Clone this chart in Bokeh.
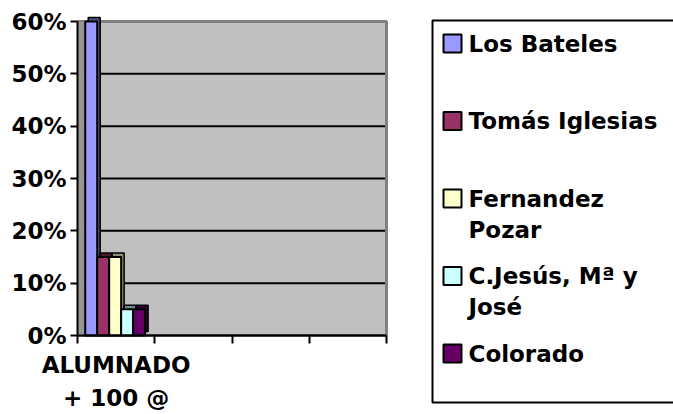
import textwrap
import numpy as np
from bokeh.plotting import figure
from bokeh.models import FixedTicker, NumeralTickFormatter, Range1d, ColumnDataSource
from bokeh.core.properties import value
from bokeh.embed import file_html
from bokeh.resources import INLINE

# ---------------- data ----------------
categories = ["ALUMNADO + 100 @", "", "", ""]
schools = ["Los Bateles", "Tomás Iglesias", "Fernandez Pozar", "C.Jesús, Mª y José", "Colorado"]
values = [0.60, 0.15, 0.15, 0.05, 0.05]          # shares in the first category
colors = ["#9999FF", "#993366", "#FFFFCC", "#CCFFFF", "#660066"]
side_colors = ["#4D4D80", "#4D1A33", "#8C8C70", "#708C8C", "#330033"]
y_ticks = [0.0, 0.1, 0.2, 0.3, 0.4, 0.5, 0.6]

FONT_NAME = "DejaVu Sans"
FONT = value(FONT_NAME)
FS = "23px"

# ---------------- layout anchors (pixels) ----------------
W, H = 673, 414
X0_PX, XN_PX = 77, 386        # plot area left / right
Y0_PX, YT_PX = 335, 21        # value 0 / top value
n_cat = len(categories)
x_per_px = n_cat / (XN_PX - X0_PX)
y_per_px = (y_ticks[-1] - y_ticks[0]) / (Y0_PX - YT_PX)
x_lo = -X0_PX * x_per_px
x_hi = (W - X0_PX) * x_per_px
y_lo = -(H - Y0_PX) * y_per_px
y_hi = y_ticks[-1] + YT_PX * y_per_px

p = figure(width=W, height=H, output_backend="svg", toolbar_location=None,
           x_range=Range1d(x_lo, x_hi), y_range=Range1d(y_lo, y_hi),
           min_border=0)
p.extra_x_ranges = {"px": Range1d(0, W)}
p.extra_y_ranges = {"px": Range1d(H, 0)}
p.background_fill_color = "white"
p.border_fill_color = "white"
p.outline_line_color = None
p.xgrid.visible = False
p.ygrid.visible = False

ymax = y_ticks[-1]
# back wall
p.quad(left=[0], right=[n_cat], bottom=[0], top=[ymax], fill_color="#C0C0C0", line_color=None)
# gridlines
p.segment(x0=np.zeros(len(y_ticks)), x1=np.full(len(y_ticks), n_cat), y0=y_ticks, y1=y_ticks,
          line_color="black", line_width=2)
# top / right edges of wall
p.line(x=[0, n_cat, n_cat], y=[ymax, ymax, 0], line_color="#808080", line_width=3)
# left side wall
p.quad(left=[0], right=[0.09], bottom=[0], top=[ymax], fill_color="#969696",
       line_color="#808080", line_width=1)

# bars (3D look: back face offset, then front face)
gap, w = 0.1, 0.155
cat_idx = 0
n = len(schools)
lefts = cat_idx + gap + w * np.arange(n)
rights = lefts + w
dx, dy = 3 * x_per_px, 4 * y_per_px
back = ColumnDataSource(dict(left=lefts + dx, right=rights + dx, bottom=np.zeros(n) + dy,
                             top=np.array(values) + dy, color=side_colors))
front = ColumnDataSource(dict(left=lefts, right=rights, bottom=np.zeros(n),
                              top=np.array(values), color=colors))
p.quad(left="left", right="right", bottom="bottom", top="top", fill_color="color",
       line_color="black", line_width=1.5, source=back)
p.quad(left="left", right="right", bottom="bottom", top="top", fill_color="color",
       line_color="black", line_width=2, source=front)

# y axis at x = 0
p.yaxis.fixed_location = 0
p.yaxis.bounds = (y_ticks[0], y_ticks[-1])
p.yaxis.ticker = FixedTicker(ticks=y_ticks)
p.yaxis.formatter = NumeralTickFormatter(format="0%")
p.yaxis.major_label_text_font = FONT_NAME
p.yaxis.major_label_text_font_style = "bold"
p.yaxis.major_label_text_font_size = FS
p.yaxis.major_label_text_color = "black"
p.yaxis.axis_line_color = "black"
p.yaxis.axis_line_width = 2
p.yaxis.major_tick_line_color = "black"
p.yaxis.major_tick_line_width = 2
p.yaxis.major_tick_out = 7
p.yaxis.major_tick_in = 0
p.yaxis.minor_tick_line_color = None
p.yaxis.major_label_standoff = 4

# x axis at value 0: tick marks at slot boundaries, label in slot centre
centers = [i + 0.5 for i in range(n_cat)]
p.xaxis.fixed_location = 0
p.xaxis.bounds = (0, n_cat)
p.xaxis.ticker = FixedTicker(ticks=centers, minor_ticks=list(range(n_cat + 1)))
p.xaxis.major_label_overrides = {c: textwrap.fill(cat, 9) if cat else " "
                                 for c, cat in zip(centers, categories)}
p.xaxis.major_tick_line_color = None
p.xaxis.minor_tick_line_color = "black"
p.xaxis.minor_tick_line_width = 2
p.xaxis.minor_tick_out = 8
p.xaxis.minor_tick_in = 0
p.xaxis.axis_line_color = "black"
p.xaxis.axis_line_width = 2
p.xaxis.major_label_text_font = FONT_NAME
p.xaxis.major_label_text_font_style = "bold"
p.xaxis.major_label_text_font_size = FS
p.xaxis.major_label_text_color = "black"
p.xaxis.major_label_text_line_height = 1.3
p.xaxis.major_label_standoff = 8

# ---------------- legend (pixel ranges) ----------------
LEG_L, LEG_T, LEG_B = 432, 20, 402
p.quad(left=[LEG_L], right=[W + 20], top=[LEG_T], bottom=[LEG_B], fill_color="white",
       line_color="black", line_width=2, x_range_name="px", y_range_name="px")
ys = 43 + 77.5 * np.arange(n)
p.rect(x=np.full(n, 452.0), y=ys, width=18, height=18, fill_color=colors,
       line_color="black", line_width=2, x_range_name="px", y_range_name="px")
tx, ty, tt = [], [], []
for yc, name in zip(ys, schools):
    for j, line in enumerate(textwrap.wrap(name, 14)):
        tx.append(468.0)
        ty.append(yc + 31 * j)
        tt.append(line)
p.text(x=tx, y=ty, text=tt, text_font=FONT, text_font_style="bold", text_font_size=FS,
       text_color="black", text_baseline="middle", text_align="left",
       x_range_name="px", y_range_name="px")

open("out.html", "w").write(file_html(p, INLINE))
